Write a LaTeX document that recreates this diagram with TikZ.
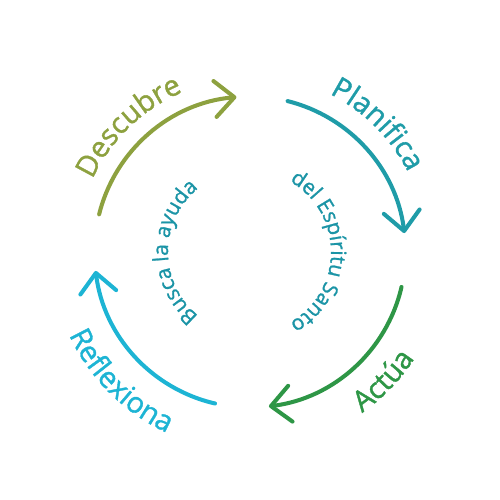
\documentclass[tikz,border=0pt]{standalone}
\usepackage{fontspec}
\setmainfont{Open Sans}
\newfontfamily\stageface{Open Sans}[FakeBold=1.2]
\usepackage{tikz}
\usetikzlibrary{
  arrows.meta,
  calc,
  decorations.text
}
\definecolor{cycleDiscover}{HTML}{8DA13F}
\definecolor{cyclePlan}{HTML}{1F9CA8}
\definecolor{cycleAct}{HTML}{2E9646}
\definecolor{cycleReflect}{HTML}{1DB4D4}
\definecolor{cycleSpirit}{HTML}{1B94A6}
\newcommand{\stagefont}{\stageface\fontsize{16.5}{19}\selectfont}
\newcommand{\spiritfont}{\stageface\fontsize{12}{14}\selectfont}
\tikzset{
  stageArc/.style={
    line width=2.3pt,
    line cap=round,
    -{Straight Barb[length=3.9mm, width=7.2mm, round]}
  },
  stageLabel/.style 2 args={
    decorate,
    decoration={
      text along path,
      text align=center,
      text color=#1,
      text={|\stagefont|#2}
    }
  },
  spiritLabel/.style={
    decorate,
    decoration={
      text along path,
      text align=center,
      text color=cycleSpirit,
      text={|\spiritfont|#1}
    }
  }
}

\begin{document}
\begin{tikzpicture}[x=1cm,y=1cm]
  \useasboundingbox (0,0) rectangle (10,10);
  \coordinate (hub) at (5,4.96);

  % the four arrows of the cycle
  \draw[stageArc, cycleDiscover] ($(hub)+(166:3.11)$) arc[start angle=166, end angle=95, radius=3.11];
  \draw[stageArc, cyclePlan] ($(hub)+(76:3.11)$) arc[start angle=76, end angle=7, radius=3.11];
  \draw[stageArc, cycleAct] ($(hub)+(-13:3.11)$) arc[start angle=-13, end angle=-83, radius=3.11];
  \draw[stageArc, cycleReflect] ($(hub)+(257:3.11)$) arc[start angle=257, end angle=187, radius=3.11];

  % stage names outside
  \path[stageLabel={cycleDiscover}{Descubre}] ($(hub)+(164:3.47)$) arc[start angle=164, end angle=104, radius=3.47];
  \path[stageLabel={cyclePlan}{Planifica}] ($(hub)+(75:3.54)$) arc[start angle=75, end angle=15, radius=3.54];
  \path[stageLabel={cycleAct}{Actúa}] ($(hub)+(-74:3.92)$) arc[start angle=-74, end angle=-14, radius=3.92];
  \path[stageLabel={cycleReflect}{Reflexiona}] ($(hub)+(195:3.98)$) arc[start angle=195, end angle=255, radius=3.98];

  % inner ring
  \path[spiritLabel={Busca la ayuda}] ($(hub)+(240:1.64)$) arc[start angle=240, end angle=120, radius=1.64];
  \path[spiritLabel={del Espíritu Santo}] ($(hub)+(60:1.62)$) arc[start angle=60, end angle=-60, radius=1.62];
\end{tikzpicture}
\end{document}
